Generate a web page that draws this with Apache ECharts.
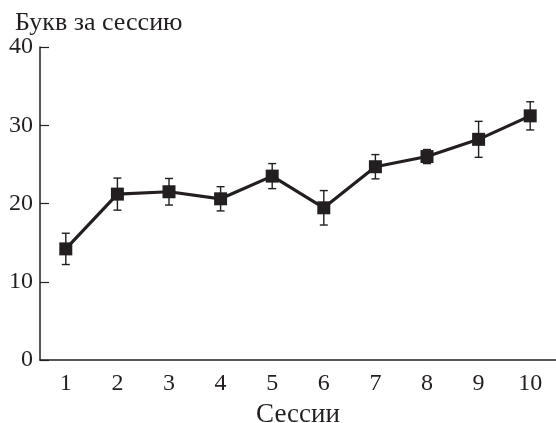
<!DOCTYPE html>
<html>
<head>
<meta charset="utf-8">
<script src="https://cdn.jsdelivr.net/npm/echarts@6/dist/echarts.min.js"></script>
<style>html,body{margin:0;padding:0;background:#fff}#c{width:556px;height:423px}</style>
</head>
<body>
<div id="c"></div>
<script>
const sessions = ['1','2','3','4','5','6','7','8','9','10'];
const means = [14.2, 21.2, 21.5, 20.6, 23.5, 19.45, 24.7, 26.0, 28.2, 31.2];
const errors = [2.0, 2.05, 1.7, 1.55, 1.6, 2.2, 1.55, 0.9, 2.3, 1.8];
const yTicks = [0, 10, 20, 30, 40];
const yTitle = 'Букв за сессию';
const xTitle = 'Сессии';

const ink = '#231f20';
const font = 'Liberation Serif';
const chart = echarts.init(document.getElementById('c'));
const errData = sessions.map((s, i) => [i, means[i] - errors[i], means[i] + errors[i]]);
chart.setOption({
  animation: false,
  title: {
    text: yTitle, left: 10, top: 5,
    textStyle: { fontFamily: font, fontSize: 26, fontWeight: 'normal', color: ink }
  },
  grid: { left: 40, right: 0, top: 47, bottom: 63, outerBoundsMode: 'none', containLabel: false },
  xAxis: {
    type: 'category', data: sessions, boundaryGap: true,
    name: xTitle, nameLocation: 'middle', nameGap: 41,
    nameTextStyle: { fontFamily: font, fontSize: 27, color: ink },
    axisLine: { lineStyle: { color: ink, width: 1.5 } },
    axisTick: { inside: true, length: 9, lineStyle: { color: ink, width: 1.2 } },
    axisLabel: { fontFamily: font, fontSize: 24, color: ink, margin: 12 },
    splitLine: { show: false }
  },
  yAxis: {
    type: 'value', min: yTicks[0], max: yTicks[yTicks.length - 1], interval: 10,
    axisLine: { show: true, lineStyle: { color: ink, width: 1.5 } },
    axisTick: { show: true, inside: true, length: 9, lineStyle: { color: ink, width: 1.2 } },
    axisLabel: { fontFamily: font, fontSize: 24, color: ink, margin: 7 },
    splitLine: { show: false }
  },
  series: [
    {
      type: 'custom',
      data: errData,
      z: 1,
      renderItem: function (params, api) {
        const x = api.value(0);
        const lo = api.coord([x, api.value(1)]);
        const hi = api.coord([x, api.value(2)]);
        const w = 4;
        const st = { stroke: ink, lineWidth: 1.4 };
        return {
          type: 'group',
          children: [
            { type: 'line', shape: { x1: lo[0], y1: lo[1], x2: hi[0], y2: hi[1] }, style: st },
            { type: 'line', shape: { x1: lo[0] - w, y1: lo[1], x2: lo[0] + w, y2: lo[1] }, style: st },
            { type: 'line', shape: { x1: hi[0] - w, y1: hi[1], x2: hi[0] + w, y2: hi[1] }, style: st }
          ]
        };
      }
    },
    {
      type: 'line',
      data: means,
      z: 2,
      symbol: 'rect', symbolSize: 13,
      lineStyle: { color: ink, width: 3.2 },
      itemStyle: { color: ink },
      emphasis: { disabled: true }
    }
  ]
});
</script>
</body>
</html>
